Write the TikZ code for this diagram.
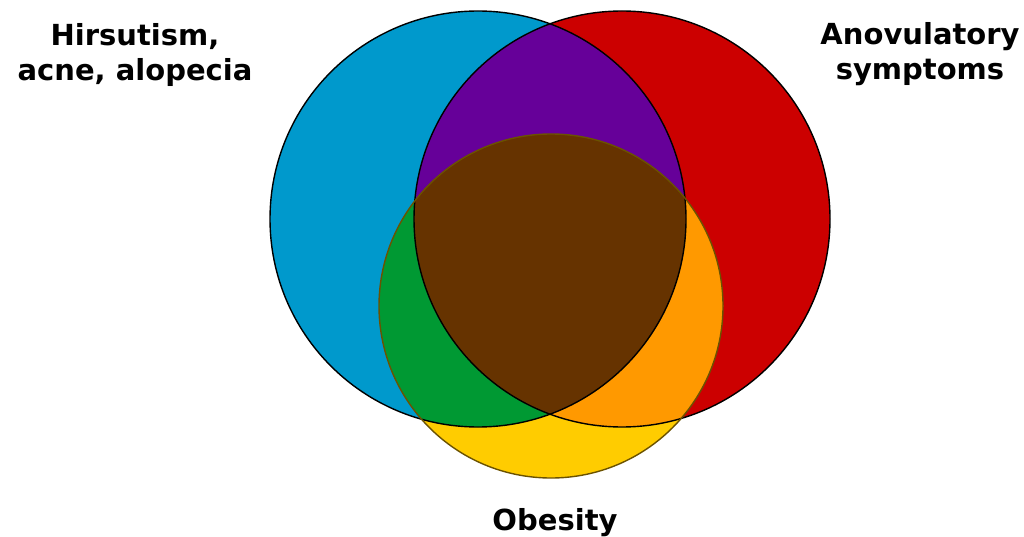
\documentclass[tikz,border=0pt]{standalone}
\usepackage{fontspec}
\setmainfont{DejaVu Sans}
\begin{document}
\begin{tikzpicture}[x=1pt,y=-1pt,
  lbl/.style={font=\bfseries\fontsize{29}{35}\selectfont, align=center, anchor=base, inner sep=0pt},
  outl/.style={line width=1.4pt}]
\definecolor{cblue}{HTML}{0099CC}
\definecolor{cred}{HTML}{CC0000}
\definecolor{cyellow}{HTML}{FFCC00}
\definecolor{cpurple}{HTML}{660099}
\definecolor{cgreen}{HTML}{009933}
\definecolor{corange}{HTML}{FF9900}
\definecolor{cbrown}{HTML}{663300}
\definecolor{cyline}{HTML}{6B5200}
\useasboundingbox (0,0) rectangle (1024,537);
\coordinate (cb) at (478,219);
\coordinate (cr) at (622,219);
\coordinate (cy) at (551,306);
% base fills
\fill[cblue] (cb) circle[radius=208pt];
\fill[cred] (cr) circle[radius=208pt];
\fill[cyellow] (cy) circle[radius=172pt];
% pairwise overlaps
\begin{scope}
  \clip (cb) circle[radius=208pt];
  \fill[cpurple] (cr) circle[radius=208pt];
  \fill[cgreen] (cy) circle[radius=172pt];
\end{scope}
\begin{scope}
  \clip (cr) circle[radius=208pt];
  \fill[corange] (cy) circle[radius=172pt];
\end{scope}
% triple overlap
\begin{scope}
  \clip (cb) circle[radius=208pt];
  \clip (cr) circle[radius=208pt];
  \fill[cbrown] (cy) circle[radius=172pt];
\end{scope}
% outlines
\draw[outl, black] (cb) circle[radius=208pt];
\draw[outl, black] (cr) circle[radius=208pt];
\draw[outl, cyline] (cy) circle[radius=172pt];
% labels
\node[lbl] (hir) at (135,81) {Hirsutism,\\acne, alopecia};
\node[lbl] (ano) at (920,80) {Anovulatory\\symptoms};
\node[lbl] (obe) at (555,530) {Obesity};
\end{tikzpicture}
\end{document}
